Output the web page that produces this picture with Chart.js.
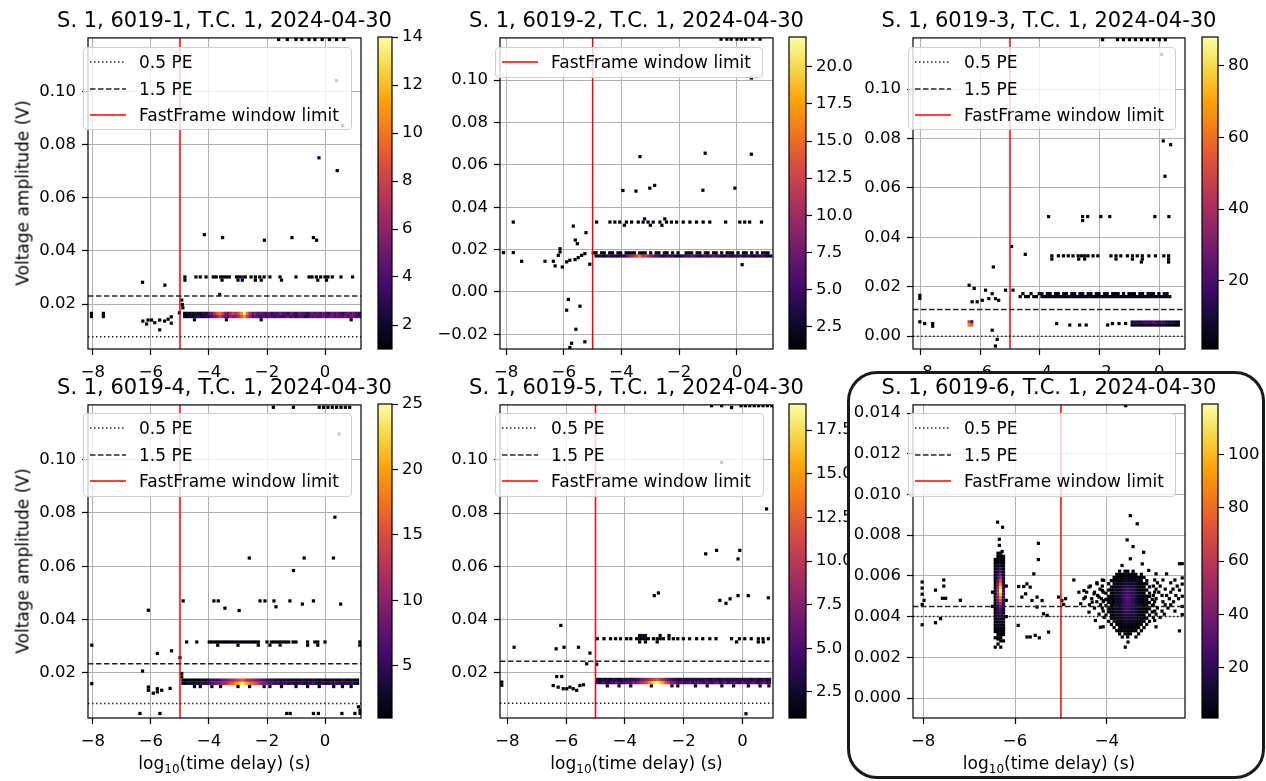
<!DOCTYPE html>
<html lang="en">
<head>
<meta charset="utf-8">
<script src="https://cdn.jsdelivr.net/npm/chart.js@4.4.1/dist/chart.umd.min.js"></script>
<style>
  body { margin: 0; background: #fff; width: 1266px; height: 781px; position: relative; overflow: hidden;
         font-family: "DejaVu Sans", sans-serif; color: #000; }
  canvas { position: absolute; }
  .txt { position: absolute; white-space: nowrap; transform: translate(-50%, -50%); line-height: 1; }
  .title { font-size: 21px; }
  .axlabel { font-size: 17px; }
  .axlabel sub { font-size: 12px; vertical-align: -4px; line-height: 0; }
  .ylab { transform: translate(-50%, -50%) rotate(-90deg); }
  .legend { position: absolute; box-sizing: border-box; border: 1px solid #cfcfcf; border-radius: 4px;
            background: rgba(255, 255, 255, 0.8); padding-top: 1px; font-size: 17px; }
  .lrow { height: 26.5px; display: flex; align-items: center; white-space: nowrap; }
  .lrow svg { margin-left: 6px; margin-right: 13px; flex: none; }
  .frame { position: absolute; box-sizing: border-box; left: 847px; top: 371px; width: 418px; height: 408px;
           border: 3px solid #1a1a1a; border-radius: 30px; background: #fff; }
</style>
</head>
<body>
<script>
// ---- chart data ----
const titles = [
  'S. 1, 6019-1, T.C. 1, 2024-04-30', 'S. 1, 6019-2, T.C. 1, 2024-04-30', 'S. 1, 6019-3, T.C. 1, 2024-04-30',
  'S. 1, 6019-4, T.C. 1, 2024-04-30', 'S. 1, 6019-5, T.C. 1, 2024-04-30', 'S. 1, 6019-6, T.C. 1, 2024-04-30'
];
const yAxisTitle = 'Voltage amplitude (V)';
const xAxisTitle = 'log<sub>10</sub>(time delay) (s)';
const legendText = { dot: '0.5 PE', dash: '1.5 PE', red: 'FastFrame window limit' };
const legendItems = [['dot', 'dash', 'red'], ['red'], ['dot', 'dash', 'red'], ['dot', 'dash', 'red'], ['dot', 'dash', 'red'], ['dot', 'dash', 'red']];

const xRanges = [[-8.17, 1.24], [-8.21, 1.25], [-8.25, 0.86], [-8.17, 1.24], [-8.25, 1.04], [-8.22, -2.30]];
const yRanges = [[0.0031, 0.1201], [-0.0269, 0.1199], [-0.0052, 0.1207], [0.0031, 0.1205], [0.0030, 0.1207], [-0.00098, 0.0144]];
const xTicks = [-8, -6, -4, -2, 0];
const xTicksP6 = [-8, -6, -4];
const yTicksMain = [0.02, 0.04, 0.06, 0.08, 0.10];
const yTicksP2 = [-0.02, 0, 0.02, 0.04, 0.06, 0.08, 0.10];
const yTicksP3 = [0, 0.02, 0.04, 0.06, 0.08, 0.10];
const yTicksP6 = [0, 0.002, 0.004, 0.006, 0.008, 0.010, 0.012, 0.014];
const cbTicks = [
  [2, 4, 6, 8, 10, 12, 14], [2.5, 5, 7.5, 10, 12.5, 15, 17.5, 20], [20, 40, 60, 80],
  [5, 10, 15, 20, 25], [2.5, 5, 7.5, 10, 12.5, 15, 17.5], [20, 40, 60, 80, 100]
];
const vmax = [14, 22, 88, 25, 19, 119];
const pe05 = [0.0077, null, 0.0000, 0.0085, 0.0085, 0.0040];
const pe15 = [0.0230, null, 0.0108, 0.0234, 0.0243, 0.0045];
const windowLimit = -5.0;

// panel 1
const p1Dots = [
  [0.40, 0.1040, 1], [0.61, 0.0871, 1], [-0.21, 0.0750, 2], [0.42, 0.0702, 1],
  [-4.16, 0.0461, 1], [-3.53, 0.0450, 1], [-2.09, 0.0440, 1], [-1.14, 0.0450, 1], [-0.40, 0.0450, 1], [-0.29, 0.0440, 1],
  [-6.29, 0.0282, 1], [-5.52, 0.0271, 1], [-3.63, 0.0236, 1],
  [-3.50, 0.0302, 2], [-2.95, 0.0302, 2], [-2.85, 0.0302, 3],
  [-8.05, 0.0165, 1], [-8.05, 0.0153, 1], [-7.64, 0.0165, 1], [-7.64, 0.0153, 1],
  [-6.28, 0.0136, 1], [-6.10, 0.0140, 1], [-6.15, 0.0125, 2], [-5.98, 0.0140, 1], [-5.87, 0.0130, 1], [-5.70, 0.0140, 1],
  [-5.70, 0.0103, 2], [-5.53, 0.0136, 1], [-5.41, 0.0143, 1], [-5.30, 0.0152, 1], [-5.30, 0.0128, 1],
  [-4.94, 0.0215, 1], [-4.92, 0.0198, 1], [-4.90, 0.0186, 1], [-5.02, 0.0167, 1]
];
const p1Rows = [
  [0.1195, [-1.6, -1.3, -1.0, -0.8, -0.55, -0.35, -0.1, 0.15, 0.4, 0.65]],
  [0.0302, [-4.83, -4.45, -4.3, -4.1, -3.85, -3.75, -3.6, -3.4, -3.3, -3.05, -2.75, -2.55, -2.4, -2.25, -2.1, -1.9, -1.55, -1.0, -0.55, -0.45, -0.3, -0.15, 0.0, 0.1, 0.25, 0.55, 0.95]],
  [0.0290, [-4.83, -3.55, -3.0, -2.85, -2.4, -2.2, -1.5, -0.25, 0.05]],
  [0.0141, [-4.5, -3.4, -2.2, 0.9]]
];
const p1BandX0 = -4.84;
const p1BandY = [0.0165, 0.0153];
const p1Band = [
  [1,2,1,2,3,2,1,3,2,4, 5,7,9,10,8,6,5,7,8,7, 9,11,14,10,7,5,6,4,5,4, 4,5,3,4,4,5,4,4,3,5, 4,3,5,4,4,3,4,5,4,5, 4,5,4,3,5,4,5,4,3,4, 5,4,5,4,3],
  [2,1,2,1,2,3,2,2,3,3, 4,5,6,8,6,5,4,6,5,6, 7,9,11,8,6,4,5,4,3,4, 3,4,4,3,4,4,3,4,5,3, 4,3,4,4,3,3,4,4,5,4, 4,5,4,4,5,4,5,4,4,5, 4,5,5,4,4]
];

// panel 2
const p2Dots = [
  [0.50, 0.1010, 1], [-3.36, 0.0639, 1], [-1.10, 0.0655, 1], [0.50, 0.0650, 1], [-3.95, 0.0479, 1], [-3.50, 0.0476, 1],
  [-3.02, 0.0490, 1], [-2.85, 0.0503, 1], [-1.18, 0.0480, 1], [-0.07, 0.0490, 1],
  [-7.75, 0.0330, 1], [-5.67, 0.0311, 1], [-5.23, 0.0280, 1], [-5.60, 0.0245, 1], [-5.53, 0.0228, 1],
  [-8.09, 0.0186, 1], [-7.75, 0.0186, 1], [-7.46, 0.0145, 1], [-6.65, 0.0145, 1], [-6.36, 0.0145, 1], [-6.30, 0.0123, 1],
  [-6.19, 0.0173, 1], [-6.13, 0.0189, 1], [-6.13, 0.0204, 1], [-6.05, 0.0118, 1], [-5.90, 0.0142, 1], [-5.79, 0.0150, 1],
  [-5.61, 0.0153, 1], [-5.50, 0.0162, 1], [-5.38, 0.0173, 1], [-5.27, 0.0181, 1], [-5.10, 0.0131, 1], [-4.98, 0.0185, 1],
  [-5.84, -0.0035, 1], [-5.90, -0.0086, 1], [-5.44, -0.0067, 1], [-5.58, -0.0176, 1], [-5.73, -0.0242, 1], [-5.27, -0.0235, 1], [-5.79, -0.0262, 1],
  [0.18, 0.0129, 1], [-3.20, 0.0345, 2], [-2.50, 0.0345, 1]
];
const p2Rows = [
  [0.1193, [-0.55, -0.35, -0.2, 0.0, 0.15, 0.3, 0.55, 0.8]],
  [0.0330, [-4.86, -4.40, -4.23, -4.06, -3.83, -3.65, -3.42, -3.25, -3.08, -2.90, -2.67, -2.44, -2.27, -2.09, -1.86, -1.63, -1.40, -1.17, -0.94, -0.39, 0.10, 0.27, 0.44, 0.85]],
  [0.0315, [-3.9, -3.0, -2.6]]
];
const p2BandX0 = -4.88;
const p2BandY = [0.0170, 0.01847];
const p2Band = [
  [3,2,4,2,3,5,3,4,2,3, 4,5,8,10,11,12,16,11,12,10, 9,8,6,5,4,3,5,4,6,3, 2,3,4,6,5,7,6,4,3,5, 6,4,5,7,6,5,4,3,5,4, 3,5,4,6,3,4,5,3,2,4, 3,5,4,2,3],
  [1,0,2,1,0,1,1,0,2,1, 0,1,1,2,1,0,1,2,1,0, 1,0,1,1,0,2,1,0,1,0, 1,0,0,1,2,1,0,1,1,0, 2,1,0,1,1,0,1,0,1,2, 1,0,1,0,1,1,0,1,0,1, 0,1,2,1,0]
];

// panel 3
const p3Dots = [
  [0.08, 0.1140, 1], [0.13, 0.0790, 1], [0.38, 0.0775, 1], [0.19, 0.0647, 2],
  [-3.71, 0.0484, 1], [-2.57, 0.0484, 1], [-2.40, 0.0484, 1], [-1.96, 0.0484, 1], [-1.66, 0.0484, 1], [-0.15, 0.0484, 1], [0.32, 0.0484, 1], [-2.57, 0.0468, 1],
  [-4.95, 0.0363, 1], [-4.49, 0.0331, 1], [-5.56, 0.0280, 1],
  [-8.02, 0.0165, 1], [-8.02, 0.0153, 1], [-6.37, 0.0206, 1], [-6.20, 0.0193, 1], [-6.27, 0.0139, 1], [-6.10, 0.0139, 1],
  [-5.93, 0.0145, 1], [-5.82, 0.0186, 1], [-5.71, 0.0152, 1], [-5.60, 0.0172, 1], [-5.49, 0.0152, 1], [-5.38, 0.0145, 1], [-5.15, 0.0186, 1], [-4.90, 0.0186, 1],
  [-8.02, 0.0058, 1], [-7.86, 0.0051, 1], [-7.59, 0.0040, 1], [-7.59, 0.0051, 1],
  [-6.37, 0.0058, 50], [-6.37, 0.0045, 62], [-6.28, 0.0045, 58], [-6.28, 0.0058, 20],
  [-5.60, 0.0024, 1], [-5.43, -0.0013, 1], [-5.49, -0.0040, 1],
  [-3.44, 0.0051, 1], [-3.00, 0.0045, 1], [-2.67, 0.0045, 1], [-2.45, 0.0045, 1], [-1.73, 0.0045, 2], [-1.57, 0.0051, 2], [-1.35, 0.0051, 2], [-1.13, 0.0051, 3]
];
const p3Rows = [
  [0.1200, [-1.9, -1.4, -1.2, -1.0, -0.8, -0.6, -0.4, -0.2, 0.0, 0.2]],
  [0.0325, [-3.6, -3.38, -3.21, -3.05, -2.89, -2.72, -2.61, -2.5, -2.39, -2.22, -2.06, -1.62, -1.45, -1.29, -1.07, -0.9, -0.74, -0.57, -0.35, -0.13, 0.15, 0.31]],
  [0.0312, [-3.6, -2.7, -2.5, -1.45, -0.9, -0.57, 0.31]],
  [0.0300, [-0.6, 0.31]]
];
const p3BandX0 = -4.66;
const p3BandY = [0.0160, 0.0172];
const p3Band = [
  [1,0,2,1,0,1,2,0, 3,4,2,5,3,4,6,3,5,4, 3,5,6,4,3,5,4,6,3,4, 5,3,4,6,5,3,4,5,3,4, 6,4,3,5,4,3,5,4,6,3, 4,5,3,4,5,3,4,3],
  [0,1,0,0,1,0,0,1, 1,0,2,1,0,1,1,0,2,1, 0,1,1,0,2,1,0,1,1,0, 1,2,0,1,1,0,3,2,1,0, 1,0,1,2,1,0,1,1,0,1, 2,1,0,1,0,1,1,0]
];
const p3LowX0 = -0.91;
const p3LowY = [0.0057, 0.0045];
const p3Low = [
  [8,12,15,10,14,18,20,16,22,18,15,19,14,12,10,9,6,3],
  [3,5,8,6,4,7,9,6,8,10,7,5,6,4,3,2,1,1]
];

// panel 4
const p4Dots = [
  [0.49, 0.1096, 1], [0.34, 0.0784, 1], [-2.61, 0.0631, 1], [-0.72, 0.0631, 1], [0.29, 0.0631, 1], [-1.09, 0.0584, 1],
  [-4.89, 0.0470, 1], [-3.83, 0.0470, 1], [-3.68, 0.0470, 1], [-3.45, 0.0443, 1], [-2.96, 0.0434, 1], [-2.24, 0.0470, 1],
  [-2.07, 0.0470, 1], [-1.76, 0.0470, 1], [-1.69, 0.0448, 1], [-1.21, 0.0470, 1], [-0.78, 0.0458, 1], [-0.40, 0.0470, 1],
  [0.54, 0.0458, 1], [-6.09, 0.0435, 1],
  [-8.04, 0.0304, 1], [-5.78, 0.0273, 1], [-5.29, 0.0283, 1], [-5.00, 0.0257, 1], [-6.29, 0.0207, 1],
  [-6.09, 0.0135, 1], [-5.92, 0.0124, 1], [-5.78, 0.0129, 1], [-5.78, 0.0141, 1], [-5.63, 0.0135, 1], [-5.34, 0.0142, 1], [-6.09, 0.0147, 1],
  [-8.04, 0.0160, 1], [-4.94, 0.0198, 1], [-4.94, 0.0185, 1],
  [1.15, 0.0073, 1], [1.21, 0.0060, 1], [-3.0, 0.0316, 2], [-2.6, 0.0316, 2]
];
const p4Rows = [
  [0.1196, [-1.78, -1.09, -0.2, -0.05, 0.1, 0.25, 0.4, 0.55, 0.7, 0.85]],
  [0.0316, [-4.77, -4.42, -3.99, -3.9, -3.8, -3.7, -3.6, -3.5, -3.4, -3.3, -3.2, -3.1, -2.9, -2.8, -2.7, -2.5, -2.4, -2.3, -2.0, -1.85, -1.75, -1.65, -1.55, -1.45, -1.35, -1.25, -1.1, -1.0, -0.6, -0.35, -0.25, 0.0, 1.2]],
  [0.0304, [-3.7, -3.0, -2.3, -1.9, -1.55, -0.6, -0.25, 1.2]],
  [0.0149, [-4.5, -4.3, -3.9, -3.6, -3.0, -2.6, -2.1, -1.9, -1.5, -1.0, -0.6, -0.2, 0.3, 0.6, 0.9]],
  [0.0048, [-6.38, -5.69, -1.32, -1.2, -0.40, -0.23, 0.58, 1.03, 1.21]]
];
const p4BandX0 = -4.90;
const p4BandY = [0.0161, 0.0173];
const p4Band = [
  [3,2,4,3,2,4,3,5,4,5, 6,7,8,9,10,11,12,14,16,18, 20,22,25,21,19,17,16,15,12,10, 9,8,7,6,5,6,4,5,6,4, 5,3,4,5,4,3,5,4,6,4, 3,5,4,3,5,4,6,5,4,3, 5,4,6,3,2],
  [2,1,2,1,1,2,1,2,2,3, 4,5,6,6,7,8,9,10,11,12, 14,15,16,14,12,11,10,9,8,7, 6,5,4,4,3,4,3,3,4,3, 2,3,3,2,3,2,3,2,3,2, 2,3,2,2,3,2,3,2,2,3, 2,2,3,1,1]
];

// panel 5
const p5Dots = [
  [-0.37, 0.1197, 1], [-0.71, 0.0991, 1], [0.82, 0.0816, 1], [-1.25, 0.0647, 1], [-0.88, 0.0660, 1], [-0.09, 0.0660, 1], [-0.15, 0.0628, 2],
  [-3.00, 0.0490, 1], [-2.86, 0.0500, 1], [-0.77, 0.0472, 1], [-0.56, 0.0461, 1], [-0.42, 0.0478, 1], [-0.15, 0.0490, 1], [0.20, 0.0490, 1], [0.88, 0.0482, 1],
  [-6.18, 0.0378, 1], [-7.77, 0.0296, 2], [-6.34, 0.0290, 1], [-6.07, 0.0296, 1], [-5.58, 0.0296, 2], [-5.19, 0.0274, 1], [-5.30, 0.0234, 1], [-4.96, 0.0232, 1],
  [-6.32, 0.0186, 1], [-6.15, 0.0186, 1], [-6.44, 0.0152, 1], [-6.27, 0.0146, 1], [-6.10, 0.0140, 1], [-5.98, 0.0140, 1], [-5.87, 0.0146, 1],
  [-5.76, 0.0140, 1], [-5.64, 0.0134, 1], [-5.53, 0.0152, 1], [-5.41, 0.0155, 1], [-8.19, 0.0165, 1], [-8.19, 0.0153, 1],
  [0.12, 0.0046, 2], [-3.4, 0.0340, 3], [-3.3, 0.0340, 2]
];
const p5Rows = [
  [0.1204, [-1.05, -0.71, -0.05, 0.1, 0.25, 0.4, 0.55, 0.7, 0.85, 1.0]],
  [0.0328, [-4.94, -4.71, -4.49, -4.32, -4.15, -3.94, -3.8, -3.6, -3.5, -3.4, -3.3, -3.2, -3.03, -2.9, -2.8, -2.69, -2.5, -2.35, -2.2, -2.01, -1.8, -1.56, -1.35, -1.11, -0.9, -0.37, -0.1, 0.08, 0.3, 0.54, 0.7, 0.88]],
  [0.0340, [-3.5, -2.8, -2.5]],
  [0.0316, [-3.5, -3.3, -2.9, -0.2, 0.54, 0.71]],
  [0.0151, [-4.6, -4.2, -3.8, -3.1, -2.4, -2.2, -1.6, -1.2, -0.7, -0.3, 0.2, 0.6, 0.9]]
];
const p5BandX0 = -4.93;
const p5BandY = [0.0163, 0.0175];
const p5Band = [
  [4,3,5,4,3,5,4,6,5,4, 5,6,5,7,6,8,9,10,12,14, 16,18,19,17,15,12,10,8,7,6, 5,6,4,5,6,4,5,6,5,4, 6,5,4,5,6,4,5,6,4,5, 6,5,4,6,5,4,5,6,5,4, 5,6,4,5],
  [3,2,3,2,3,2,3,3,2,3, 3,4,3,4,4,5,6,7,8,9, 10,11,12,10,9,7,6,5,4,4, 3,4,3,3,4,3,3,4,3,3, 4,3,3,4,3,3,4,3,3,4, 3,3,4,3,3,4,3,3,4,3, 3,4,3,3]
];

// panel 6
const p6Dots = [
  [-3.59, 0.01436, 1],
  [-6.38, 0.00864, 1], [-6.27, 0.00839, 1], [-6.34, 0.00780, 1], [-6.34, 0.00750, 1], [-6.28, 0.00720, 2], [-5.49, 0.00760, 1], [-5.49, 0.00680, 1],
  [-8.02, 0.00570, 1], [-8.02, 0.00540, 1], [-8.02, 0.00510, 1], [-8.02, 0.00460, 1], [-8.02, 0.00360, 1], [-7.73, 0.00530, 1],
  [-7.55, 0.00580, 1], [-7.55, 0.00550, 1], [-7.51, 0.00490, 2], [-7.58, 0.00490, 2], [-7.19, 0.00480, 1], [-7.98, 0.00480, 1], [-7.62, 0.00390, 1], [-7.73, 0.00370, 1],
  [-6.49, 0.00450, 1], [-6.49, 0.00520, 1], [-6.19, 0.00480, 2], [-6.19, 0.00550, 1], [-6.19, 0.00400, 1], [-6.25, 0.00340, 1], [-6.37, 0.00290, 1],
  [-5.92, 0.00548, 1], [-5.81, 0.00548, 1], [-5.74, 0.00561, 1], [-5.67, 0.00545, 1], [-5.77, 0.00512, 1], [-5.85, 0.00496, 1], [-5.63, 0.00479, 1],
  [-5.52, 0.00496, 1], [-5.52, 0.00447, 1], [-5.41, 0.00479, 1], [-5.38, 0.00414, 1], [-5.30, 0.00406, 1], [-5.59, 0.00610, 1],
  [-5.93, 0.00357, 1], [-5.74, 0.00300, 2], [-5.67, 0.00300, 1], [-5.56, 0.00308, 1], [-5.47, 0.00296, 2], [-5.27, 0.00324, 1],
  [-5.05, 0.00496, 1], [-4.98, 0.00479, 1], [-4.90, 0.00488, 1], [-4.94, 0.00460, 1], [-4.72, 0.00580, 1],
  [-4.61, 0.00520, 1], [-4.50, 0.00528, 2], [-4.47, 0.00496, 1], [-4.39, 0.00545, 1], [-4.32, 0.00471, 2], [-4.28, 0.00512, 1], [-4.21, 0.00561, 1],
  [-4.17, 0.00496, 2], [-4.10, 0.00528, 1], [-4.07, 0.00578, 1], [-4.07, 0.00479, 2], [-4.57, 0.00463, 1], [-4.39, 0.00422, 1], [-4.25, 0.00381, 1], [-4.14, 0.00348, 1],
  [-3.49, 0.00896, 1], [-3.34, 0.00856, 2], [-3.56, 0.00777, 1], [-3.43, 0.00744, 1], [-3.20, 0.00716, 1], [-3.67, 0.00651, 1], [-3.23, 0.00659, 1],
  [-3.09, 0.00627, 1], [-3.49, 0.00684, 1], [-3.60, 0.00250, 1],
  [-2.36, 0.00660, 1], [-2.36, 0.00590, 1], [-2.36, 0.00560, 2], [-2.42, 0.00530, 1], [-2.36, 0.00500, 2], [-2.36, 0.00450, 1], [-2.36, 0.00410, 1],
  [-2.42, 0.00330, 1], [-2.42, 0.00660, 1]
];
// sparse black halo on both sides of the wide cluster near -3.5, one row per y
const p6HaloRows = [
  [0.00610, [-2.93, -2.70]],
  [0.00580, [-4.10, -2.96, -2.78, -2.52]],
  [0.00566, [-4.22, -2.90, -2.61]],
  [0.00550, [-4.36, -4.10, -2.99, -2.84, -2.47]],
  [0.00535, [-4.15, -2.93, -2.73, -2.56]],
  [0.00520, [-4.44, -4.27, -4.08, -2.96, -2.87, -2.61]],
  [0.00504, [-4.20, -2.99, -2.80, -2.70, -2.50]],
  [0.00488, [-4.50, -4.33, -4.12, -2.93, -2.64, -2.44]],
  [0.00473, [-4.22, -4.08, -2.96, -2.78, -2.55]],
  [0.00458, [-4.38, -4.14, -2.99, -2.73, -2.61]],
  [0.00442, [-4.27, -4.10, -2.90, -2.67]],
  [0.00427, [-4.08, -2.96, -2.80, -2.52]],
  [0.00412, [-4.17, -2.93, -2.75]],
  [0.00396, [-4.06, -2.99, -2.84]],
  [0.00381, [-2.96]],
  [0.00350, [-4.08, -2.93]],
  [0.00275, [-3.54]]
];
// narrow cluster near -6.3: one column of counts per x, bottom to top from p6CoreAY0
const p6CoreAX = [-6.43, -6.37, -6.31, -6.25];
const p6CoreAY0 = 0.0025;
const p6CoreA = [
  [1,0,0,1,0,1,1,2,1,2,3,2,4,3,5,4,6,5,6,5,4,5,3,4,2,3,2,1,1,0,0],
  [0,1,0,1,2,1,3,3,5,7,10,14,18,24,30,38,46,52,55,50,42,34,26,20,14,9,6,4,2,1,1],
  [1,0,1,2,1,3,2,4,6,9,14,20,28,38,52,70,88,105,119,108,90,72,55,40,28,18,10,6,4,2,1],
  [0,0,1,0,1,1,2,2,3,4,6,8,10,12,15,18,20,22,22,20,18,15,12,9,7,5,3,2,1,1,0]
];
// wide cluster near -3.5: rows bottom to top from p6CoreBY0, columns from p6CoreBX0
const p6CoreBX0 = -4.02;
const p6CoreBY0 = 0.0030;
const p6CoreB = [
  [0,0,0,0,0,0,1,0,1,0,0,1,0,0,0,0,0,0],
  [0,0,0,0,0,1,0,2,1,1,0,0,1,0,0,0,0,0],
  [0,0,0,0,1,1,2,1,2,2,1,1,0,1,0,0,0,0],
  [0,0,0,1,0,2,2,3,3,2,2,1,2,0,1,0,0,0],
  [0,0,1,0,2,3,4,5,4,4,3,3,2,1,0,1,0,0],
  [0,1,0,2,3,5,6,8,9,8,7,5,3,2,1,0,1,0],
  [0,0,1,2,4,6,8,11,12,11,10,7,4,3,1,1,0,0],
  [1,0,2,3,5,7,10,13,15,14,12,9,5,3,2,0,1,0],
  [0,1,1,3,5,8,12,16,18,17,14,10,6,3,2,1,0,1],
  [0,1,2,4,6,9,14,19,22,20,16,11,7,4,2,1,1,0],
  [1,0,2,3,6,10,15,21,25,23,18,12,7,4,3,1,0,1],
  [0,2,1,4,7,11,16,23,28,26,20,13,8,5,2,2,1,0],
  [1,1,2,4,7,11,17,24,30,27,21,14,8,5,3,1,0,1],
  [0,1,2,3,6,10,16,23,28,26,20,13,8,4,2,1,1,0],
  [1,0,2,4,6,9,15,21,25,23,18,12,7,4,2,0,1,0],
  [0,1,1,3,5,8,13,18,21,20,16,10,6,3,1,1,0,0],
  [0,0,2,2,4,7,11,15,17,16,13,9,5,2,2,0,1,0],
  [0,1,0,2,3,6,9,12,13,12,10,7,4,2,1,1,0,0],
  [0,0,1,1,2,4,6,8,9,8,7,5,3,1,0,1,0,0],
  [0,0,0,1,1,3,4,5,6,5,4,2,2,1,1,0,0,0],
  [0,0,0,0,1,1,2,3,2,3,1,1,0,1,0,0,0,0],
  [0,0,0,0,0,1,0,1,1,0,1,0,0,0,0,0,0,0]
];

// ---- layout (pixels) ----
const frames = [
  { plot: [88, 37, 361, 349], cb: [378, 392], legend: [83, 47, 352, 130] },
  { plot: [500, 37, 773, 349], cb: [789, 806], legend: [495, 47, 763, 78] },
  { plot: [913, 37, 1185, 349], cb: [1202, 1218], legend: [908, 47, 1176, 130] },
  { plot: [88, 404, 361, 718], cb: [378, 392], legend: [83, 413, 352, 497] },
  { plot: [500, 404, 773, 718], cb: [789, 806], legend: [495, 413, 764, 497] },
  { plot: [913, 404, 1185, 718], cb: [1202, 1218], legend: [908, 413, 1176, 497] }
];
const xTickSets = [xTicks, xTicks, xTicks, xTicks, xTicks, xTicksP6];
const yTickSets = [yTicksMain, yTicksP2, yTicksP3, yTicksMain, yTicksMain, yTicksP6];
const yDecimals = [2, 2, 2, 2, 2, 3];
const cbDecimals = [0, 1, 0, 0, 1, 0];
const infernoStops = ['#000004', '#160b39', '#420a68', '#6a176e', '#932667', '#bc3754',
                      '#dd513a', '#f37819', '#fca50a', '#f6d746', '#fcffa4'];

// ---- helpers ----
const binW = k => (xRanges[k][1] - xRanges[k][0]) / 100;
const binH = k => (yRanges[k][1] - yRanges[k][0]) / 100;

function cellsFromDots(d) { return d.map(([x, y, c]) => ({ x, y, c })); }
function cellsFromRows(rows) {
  const out = [];
  rows.forEach(([y, xs]) => xs.forEach(x => out.push({ x, y, c: 1 })));
  return out;
}
function cellsFromBand(x0, bw, ys, counts) {
  const out = [];
  counts.forEach((row, r) => row.forEach((c, i) => { if (c > 0) out.push({ x: x0 + i * bw, y: ys[r], c }); }));
  return out;
}
function cellsFromCols(xs, y0, bh, cols) {
  const out = [];
  cols.forEach((col, j) => col.forEach((c, i) => { if (c > 0) out.push({ x: xs[j], y: y0 + i * bh, c }); }));
  return out;
}
function cellsFromGrid(x0, bw, y0, bh, rows) {
  const out = [];
  rows.forEach((row, i) => row.forEach((c, j) => { if (c > 0) out.push({ x: x0 + j * bw, y: y0 + i * bh, c }); }));
  return out;
}

const cellSets = [
  [...cellsFromDots(p1Dots), ...cellsFromRows(p1Rows), ...cellsFromBand(p1BandX0, binW(0), p1BandY, p1Band)],
  [...cellsFromDots(p2Dots), ...cellsFromRows(p2Rows), ...cellsFromBand(p2BandX0, binW(1), p2BandY, p2Band)],
  [...cellsFromDots(p3Dots), ...cellsFromRows(p3Rows), ...cellsFromBand(p3BandX0, binW(2), p3BandY, p3Band),
   ...cellsFromBand(p3LowX0, binW(2), p3LowY, p3Low)],
  [...cellsFromDots(p4Dots), ...cellsFromRows(p4Rows), ...cellsFromBand(p4BandX0, binW(3), p4BandY, p4Band)],
  [...cellsFromDots(p5Dots), ...cellsFromRows(p5Rows), ...cellsFromBand(p5BandX0, binW(4), p5BandY, p5Band)],
  [...cellsFromDots(p6Dots), ...cellsFromRows(p6HaloRows), ...cellsFromCols(p6CoreAX, p6CoreAY0, binH(5), p6CoreA),
   ...cellsFromGrid(p6CoreBX0, binW(5), p6CoreBY0, binH(5), p6CoreB)]
];

function hexRgb(h) { return [1, 3, 5].map(i => parseInt(h.slice(i, i + 2), 16)); }
function inferno(t) {
  t = Math.max(0, Math.min(1, t));
  const n = infernoStops.length - 1, f = t * n, i = Math.min(Math.floor(f), n - 1), u = f - i;
  const a = hexRgb(infernoStops[i]), b = hexRgb(infernoStops[i + 1]);
  return 'rgb(' + a.map((v, j) => Math.round(v + (b[j] - v) * u)).join(',') + ')';
}
function fmtTick(v, d) {
  return (v < -1e-12 ? '\u2212' : '') + Math.abs(v).toFixed(d);
}

Chart.defaults.font.family = "'DejaVu Sans', sans-serif";
Chart.defaults.font.size = 16.5;
Chart.defaults.color = '#000';
Chart.defaults.animation = false;

// axes outline drawn on top of the data
const framePlugin = {
  id: 'frame',
  afterDraw(chart) {
    const { ctx, chartArea: a } = chart;
    ctx.save();
    ctx.strokeStyle = '#000';
    ctx.lineWidth = 1.2;
    ctx.strokeRect(a.left, a.top, a.right - a.left, a.bottom - a.top);
    ctx.restore();
  }
};

function addCanvas(left, top, w, h) {
  const cv = document.createElement('canvas');
  cv.width = w; cv.height = h;
  cv.style.left = left + 'px'; cv.style.top = top + 'px';
  cv.style.width = w + 'px'; cv.style.height = h + 'px';
  document.body.appendChild(cv);
  return cv;
}
function addText(html, x, y, cls) {
  const d = document.createElement('div');
  d.className = 'txt ' + cls;
  d.innerHTML = html;
  d.style.left = x + 'px'; d.style.top = y + 'px';
  document.body.appendChild(d);
}
function lineSet(pts, color, dash) {
  return { data: pts, showLine: true, borderColor: color, borderWidth: 1.5, borderDash: dash,
           pointRadius: 0, order: 1, clip: 0 };
}

function makePanel(k) {
  const [L, T, R, B] = frames[k].plot;
  const padL = 80, padT = 15, padR = 8, padB = 40;
  const cv = addCanvas(L - padL, T - padT, R - L + padL + padR, B - T + padT + padB);
  const xr = xRanges[k], yr = yRanges[k];
  const bw = binW(k), bh = binH(k);
  const datasets = [];
  if (pe05[k] !== null) {
    datasets.push(lineSet([{ x: xr[0], y: pe05[k] }, { x: xr[1], y: pe05[k] }], '#262626', [1.5, 2.5]));
    datasets.push(lineSet([{ x: xr[0], y: pe15[k] }, { x: xr[1], y: pe15[k] }], '#262626', [5.5, 2.5]));
  }
  datasets.push(lineSet([{ x: windowLimit, y: yr[0] }, { x: windowLimit, y: yr[1] }], '#ff0000', []));
  datasets.push({
    data: cellSets[k], pointStyle: 'rect', borderWidth: 0, order: 2, clip: 0,
    pointRadius: ctx => {
      const s = ctx.chart.scales;
      const w = Math.abs(s.x.getPixelForValue(bw) - s.x.getPixelForValue(0));
      const h = Math.abs(s.y.getPixelForValue(bh) - s.y.getPixelForValue(0));
      return ((w + h) / 2 + 0.3) / (2 * Math.SQRT1_2);
    },
    backgroundColor: ctx => ctx.raw ? inferno((ctx.raw.c - 1) / (vmax[k] - 1)) : '#000'
  });
  new Chart(cv, {
    type: 'scatter',
    data: { datasets },
    options: {
      responsive: false, events: [],
      layout: { padding: { left: 0, top: padT, right: padR, bottom: 0 } },
      plugins: { legend: { display: false }, tooltip: { enabled: false } },
      scales: {
        x: {
          type: 'linear', min: xr[0], max: xr[1],
          afterFit: s => { s.height = padB; },
          afterBuildTicks: s => { s.ticks = xTickSets[k].map(v => ({ value: v })); },
          ticks: { callback: v => fmtTick(v, 0), padding: 8, maxRotation: 0, autoSkip: false },
          grid: { color: '#b0b0b0', lineWidth: 1, tickColor: '#000', tickLength: 6, tickWidth: 1.2 },
          border: { display: false }
        },
        y: {
          type: 'linear', min: yr[0], max: yr[1],
          afterFit: s => { s.width = padL; },
          afterBuildTicks: s => { s.ticks = yTickSets[k].map(v => ({ value: v })); },
          ticks: { callback: v => fmtTick(v, yDecimals[k]), padding: 6, autoSkip: false },
          grid: { color: '#b0b0b0', lineWidth: 1, tickColor: '#000', tickLength: 6, tickWidth: 1.2 },
          border: { display: false }
        }
      }
    },
    plugins: [framePlugin]
  });
}

function makeColorbar(k) {
  const [cl, cr] = frames[k].cb;
  const T = frames[k].plot[1], B = frames[k].plot[3];
  const padL = 3, padT = 15, padB = 15, padR = 62;
  const cv = addCanvas(cl - padL, T - padT, cr - cl + padL + padR, B - T + padT + padB);
  new Chart(cv, {
    type: 'bar',
    data: {
      labels: ['count'],
      datasets: [{
        data: [[1, vmax[k]]], borderWidth: 0, barPercentage: 1, categoryPercentage: 1,
        backgroundColor: ctx => {
          const a = ctx.chart.chartArea;
          if (!a) return '#000';
          const g = ctx.chart.ctx.createLinearGradient(0, a.bottom, 0, a.top);
          infernoStops.forEach((c, i) => g.addColorStop(i / (infernoStops.length - 1), c));
          return g;
        }
      }]
    },
    options: {
      responsive: false, events: [],
      layout: { padding: { left: padL, top: padT, bottom: padB, right: 0 } },
      plugins: { legend: { display: false }, tooltip: { enabled: false } },
      scales: {
        x: { display: false },
        y: {
          position: 'right', min: 1, max: vmax[k],
          afterFit: s => { s.width = padR; },
          afterBuildTicks: s => { s.ticks = cbTicks[k].map(v => ({ value: v })); },
          ticks: { callback: v => fmtTick(v, cbDecimals[k]), padding: 4, autoSkip: false },
          grid: { drawOnChartArea: false, tickColor: '#000', tickLength: 6, tickWidth: 1.2 },
          border: { display: false }
        }
      }
    },
    plugins: [framePlugin]
  });
}

function sampleSvg(key) {
  const style = { dot: ['#262626', '1.5 2.5'], dash: ['#262626', '5.5 2.5'], red: ['#ff0000', 'none'] }[key];
  return '<svg width="36" height="6"><line x1="0" y1="3" x2="36" y2="3" stroke="' + style[0] +
         '" stroke-width="1.5" stroke-dasharray="' + style[1] + '"/></svg>';
}
function addLegend(k) {
  const [l, t, r, b] = frames[k].legend;
  const box = document.createElement('div');
  box.className = 'legend';
  box.style.left = l + 'px'; box.style.top = t + 'px';
  box.style.width = (r - l) + 'px'; box.style.height = (b - t) + 'px';
  legendItems[k].forEach(key => {
    const row = document.createElement('div');
    row.className = 'lrow';
    row.innerHTML = sampleSvg(key) + '<span>' + legendText[key] + '</span>';
    box.appendChild(row);
  });
  document.body.appendChild(box);
}

function buildPanel(k) {
  const [L, T, R, B] = frames[k].plot;
  makePanel(k);
  makeColorbar(k);
  addLegend(k);
  addText(titles[k], (L + R) / 2, T - 17, 'title');
  if (k % 3 === 0) addText(yAxisTitle, 23, (T + B) / 2, 'axlabel ylab');
  if (k >= 3) addText(xAxisTitle, (L + R) / 2, 763, 'axlabel');
}

for (let k = 0; k < 5; k++) buildPanel(k);
// highlighted last panel sits on a white rounded box
const box = document.createElement('div');
box.className = 'frame';
document.body.appendChild(box);
buildPanel(5);
</script>
</body>
</html>
